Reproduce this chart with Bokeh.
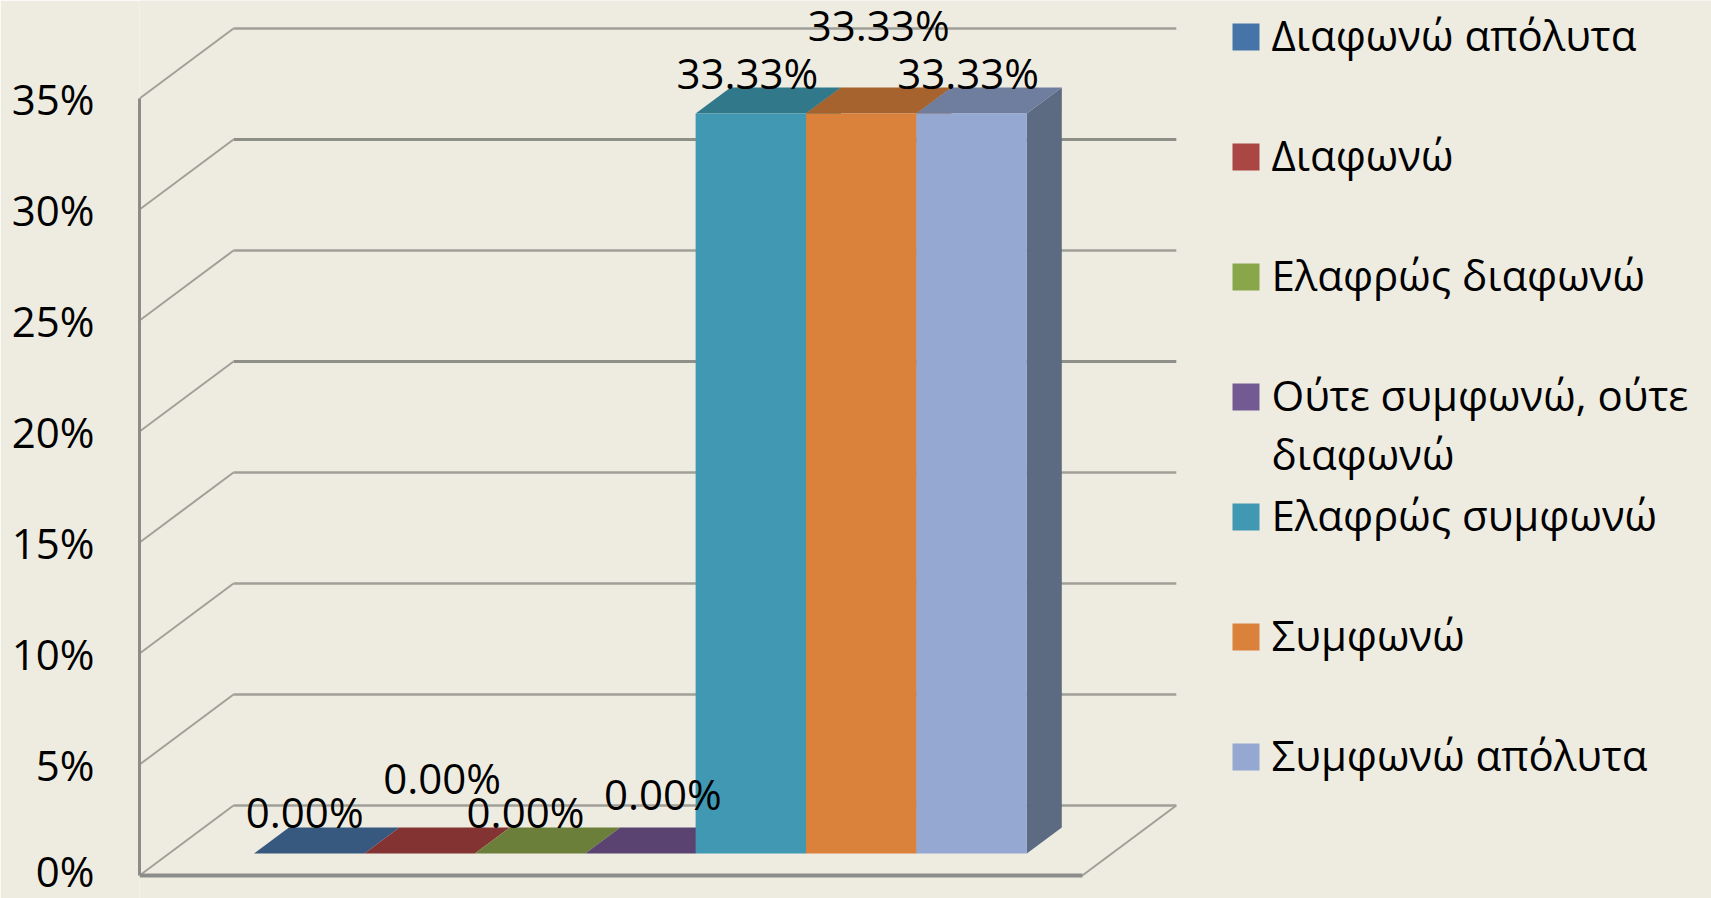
from bokeh.plotting import figure
from bokeh.models import ColumnDataSource, FixedTicker, Range1d
from bokeh.core.properties import value
from bokeh.embed import file_html
from bokeh.resources import INLINE

# ---- data ----
series_names = ["Διαφωνώ απόλυτα", "Διαφωνώ", "Ελαφρώς διαφωνώ", "Ούτε συμφωνώ, ούτε\nδιαφωνώ",
                "Ελαφρώς συμφωνώ", "Συμφωνώ", "Συμφωνώ απόλυτα"]
series_values = [0.0, 0.0, 0.0, 0.0, 33.33, 33.33, 33.33]
data_labels = ["0.00%", "0.00%", "0.00%", "0.00%", "33.33%", "33.33%", "33.33%"]
y_ticks = [0, 5, 10, 15, 20, 25, 30, 35]
y_tick_labels = ["0%", "5%", "10%", "15%", "20%", "25%", "30%", "35%"]

# ---- style ----
front_colors = ["#4674A9", "#AA4644", "#8AA64A", "#735A93", "#4198B2", "#DA813C", "#95A8D1"]
top_colors = ["#37597F", "#843333", "#6C7F3A", "#5A4370", "#31788A", "#A6632E", "#6F7E9F"]
side_colors = ["#37597F", "#843333", "#6C7F3A", "#5A4370", "#31788A", "#A6632E", "#5C6A82"]
BG = "#EEECE1"
AXIS = "#8C8C8A"
GRID = "#A0A098"
GRID_DARK = "#8F8F89"
FONT = "Open Sans"
FS = "42px"
W, H = 1711, 898
PX_X, PX_Y = 110.4, 22.2            # pixels per bar width, pixels per percent
LEFT, ZERO = 139, 875               # page position of the plot origin
GAP = 0.77                          # empty room either side of the bars, in bar widths
DEPTH_X, DEPTH_Y = 94 / PX_X, 70 / PX_Y   # projection of the chart's full depth
Z0, Z1 = 0.314, 0.686               # depth span occupied by the bars
n = len(series_values)
FLOOR_W = n + 2 * GAP
TOP = 35


def proj(x, y, z):
    return x + z * DEPTH_X, y + z * DEPTH_Y


p = figure(width=W, height=H, output_backend="svg", toolbar_location=None,
           x_range=Range1d(0, (W - LEFT) / PX_X), y_range=Range1d((ZERO - H) / PX_Y, ZERO / PX_Y),
           min_border_left=LEFT, min_border_right=0, min_border_top=0, min_border_bottom=0,
           background_fill_color=BG, border_fill_color=BG, outline_line_color=None)
p.grid.visible = False

# axes
ya = p.yaxis[0]
ya.ticker = FixedTicker(ticks=y_ticks)
ya.bounds = (0, TOP)
ya.major_label_overrides = dict(zip(y_ticks, y_tick_labels))
ya.major_label_text_font = FONT
ya.major_label_text_font_size = FS
ya.major_label_text_line_height = 0.7
ya.major_label_text_color = "#000000"
ya.major_label_standoff = 39
ya.major_tick_line_color = None
ya.minor_tick_line_color = None
ya.axis_line_color = AXIS
ya.axis_line_width = 3

xa = p.xaxis[0]
xa.fixed_location = 0
xa.ticker = FixedTicker(ticks=[])
xa.bounds = (0, FLOOR_W)
xa.major_tick_line_color = None
xa.minor_tick_line_color = None
xa.major_label_text_font_size = "0px"
xa.major_label_standoff = 0
xa.axis_line_color = AXIS
xa.axis_line_width = 4

# walls: gridlines along the back and the left wall, floor edge on the right
back_xs, back_ys, side_xs, side_ys = [], [], [], []
for t in y_ticks:
    a = proj(0, t, 1)
    b = proj(FLOOR_W, t, 1)
    back_xs.append([a[0], b[0]])
    back_ys.append([a[1], b[1]])
    side_xs.append([0, a[0]])
    side_ys.append([t, a[1]])
back_colors = [GRID_DARK if t in (20, 30) else GRID for t in y_ticks]
back_widths = [3.0 if t in (20, 30) else 2.4 for t in y_ticks]
p.multi_line(back_xs, back_ys, line_color=back_colors, line_width=back_widths)
p.multi_line(side_xs, side_ys, line_color=GRID, line_width=2)
fr = proj(FLOOR_W, 0, 1)
p.line([FLOOR_W, fr[0]], [0, fr[1]], line_color=GRID, line_width=2)

# bars: side, top, front faces, drawn from their values
for i, v in enumerate(series_values):
    x0, x1 = GAP + i, GAP + i + 1
    s = [proj(x1, 0, Z0), proj(x1, 0, Z1), proj(x1, v, Z1), proj(x1, v, Z0)]
    t = [proj(x0, v, Z0), proj(x1, v, Z0), proj(x1, v, Z1), proj(x0, v, Z1)]
    f = [proj(x0, 0, Z0), proj(x1, 0, Z0), proj(x1, v, Z0), proj(x0, v, Z0)]
    if v > 0:
        p.patch([q[0] for q in s], [q[1] for q in s], fill_color=side_colors[i], line_color=None)
    p.patch([q[0] for q in t], [q[1] for q in t], fill_color=top_colors[i], line_color=None)
    if v > 0:
        p.patch([q[0] for q in f], [q[1] for q in f], fill_color=front_colors[i], line_color=None)

# data labels, staggered as in the original chart
nudge_x = [-22, 5, -22, 5, -21, 0, -21]
nudge_y = [-29, -63, -29, -47.5, -28, -76, -28]
zm = (Z0 + Z1) / 2
anchors = [proj(GAP + i + 0.5, v, zm) for i, v in enumerate(series_values)]
lab = ColumnDataSource(dict(x=[a[0] for a in anchors], y=[a[1] for a in anchors], t=data_labels,
                            dx=nudge_x, dy=nudge_y))
p.text("x", "y", text="t", source=lab, x_offset="dx", y_offset="dy", text_align="center",
       text_baseline="middle", text_font=value(FONT), text_font_size=FS, text_color="#000000")

# legend
LEG_X, LEG_Y0, LEG_STEP = 1245.5, 36.5, 120
def data_x(px):
    return (px - LEFT) / PX_X
def data_y(py):
    return (ZERO - py) / PX_Y
leg = ColumnDataSource(dict(x=[data_x(LEG_X)] * n,
                            y=[data_y(LEG_Y0 + LEG_STEP * i) for i in range(n)],
                            c=front_colors, t=series_names))
p.scatter("x", "y", source=leg, marker="square", size=27, fill_color="c", line_color=None)
p.text("x", "y", text="t", source=leg, x_offset=25.5, y_offset=-31, text_align="left",
       text_baseline="top", text_font=value(FONT), text_font_size=FS, text_color="#000000",
       text_line_height=1.03)

open("out.html", "w").write(file_html(p, INLINE))
